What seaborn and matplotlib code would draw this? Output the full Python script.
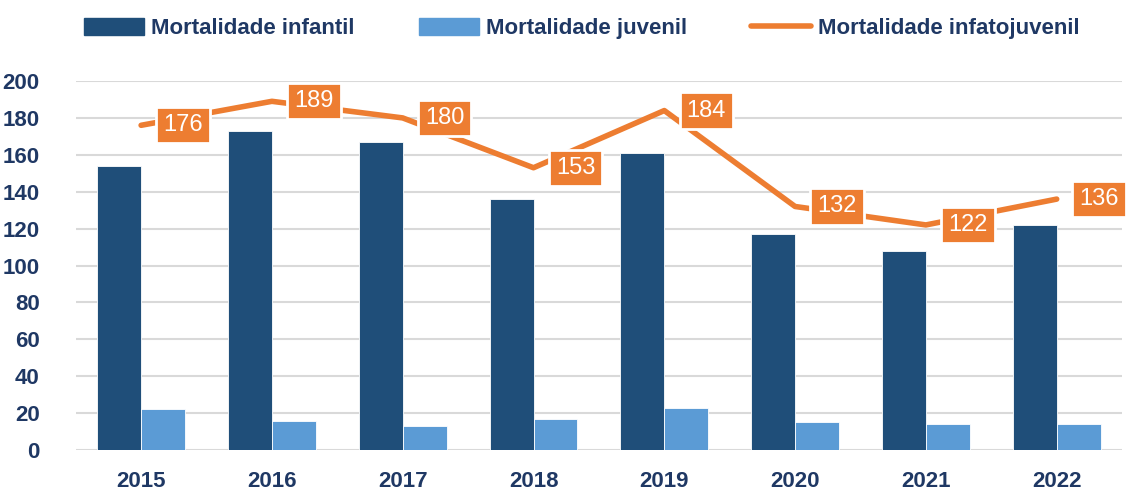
import pandas as pd
import seaborn as sns
import matplotlib.pyplot as plt
from matplotlib.patches import Patch
from matplotlib.lines import Line2D

# dados
anos = ['2015', '2016', '2017', '2018', '2019', '2020', '2021', '2022']
infantil = [154, 173, 167, 136, 161, 117, 108, 122]
juvenil = [22, 16, 13, 17, 23, 15, 14, 14]
infatojuvenil = [176, 189, 180, 153, 184, 132, 122, 136]

cor_inf = '#1F4E79'
cor_juv = '#5B9BD5'
cor_linha = '#ED7D31'
cor_texto = '#1F3864'

df = pd.DataFrame({
    'ano': anos * 2,
    'valor': infantil + juvenil,
    'serie': ['Mortalidade infantil'] * len(anos) + ['Mortalidade juvenil'] * len(anos),
})

sns.set_style('white')
plt.rcParams['font.family'] = ['Liberation Sans', 'DejaVu Sans']

fig = plt.figure(figsize=(11.3, 4.94), dpi=100)
ax = fig.add_axes([0.067, 0.089, 0.926, 0.747])

sns.barplot(data=df, x='ano', y='valor', hue='serie',
            palette=[cor_inf, cor_juv], saturation=1, width=0.67, gap=0,
            edgecolor='white', linewidth=0.6, legend=False, ax=ax, zorder=2)

sns.lineplot(x=list(range(len(anos))), y=infatojuvenil, color=cor_linha,
             linewidth=4, ax=ax, zorder=3, clip_on=False)

for i, v in enumerate(infatojuvenil):
    ax.annotate(str(v), (i, v), xytext=(42, 0), textcoords='offset pixels',
                ha='center', va='center', color='white', fontsize=17,
                bbox=dict(boxstyle='square,pad=0.3', fc=cor_linha, ec='white', lw=2),
                zorder=4, annotation_clip=False)

ax.set_ylim(0, 200)
ax.set_xlim(-0.5, len(anos) - 0.5)
ax.set_yticks(range(0, 201, 20))
ax.yaxis.grid(True, color='#D9D9D9', linewidth=1.5, zorder=0)
ax.set_axisbelow(True)
for s in ax.spines.values():
    s.set_visible(False)
ax.set_xlabel('')
ax.set_ylabel('')
ax.tick_params(axis='x', length=0, pad=15)
ax.tick_params(axis='y', length=0, pad=26)
for lab in ax.get_xticklabels() + ax.get_yticklabels():
    lab.set_fontweight('bold')
    lab.set_fontsize(16)
    lab.set_color(cor_texto)

handles = [Patch(color=cor_inf), Patch(color=cor_juv),
           Line2D([0], [0], color=cor_linha, linewidth=4)]
labels = ['Mortalidade infantil', 'Mortalidade juvenil', 'Mortalidade infatojuvenil']
leg = fig.legend(handles, labels, loc='center', bbox_to_anchor=(0.515, 0.943),
                 ncol=3, frameon=False, handlelength=2.7, handleheight=0.8,
                 handletextpad=0.3, columnspacing=2.9,
                 prop={'weight': 'bold', 'size': 16})
for t in leg.get_texts():
    t.set_color(cor_texto)

fig.savefig('out.png', dpi=100)
